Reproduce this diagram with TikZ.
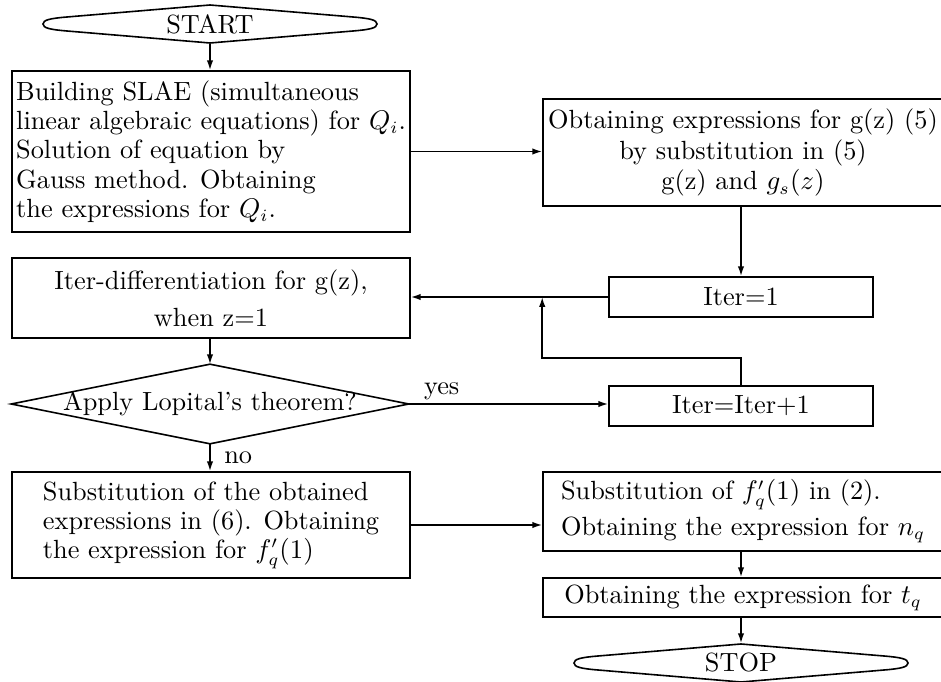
\documentclass[tikz,border=0pt]{standalone}
\usetikzlibrary{arrows.meta,calc}
\newlength\pxu \setlength\pxu{0.4065pt}
\newcommand\termpath[1]{\draw[shift={(#1.center)}] (0,-19) -- (-143,-7) .. controls (-160,-5.6) and (-167,-4) .. (-167,0) .. controls (-167,4) and (-160,5.6) .. (-143,7) -- (0,19) -- (143,7) .. controls (160,5.6) and (167,4) .. (167,0) .. controls (167,-4) and (160,-5.6) .. (143,-7) -- cycle;}
\begin{document}
\begin{tikzpicture}[x=\pxu,y=-\pxu, line width=0.65pt,
  every node/.style={font=\fontsize{10.7}{11.9}\selectfont},
  box/.style={draw, rectangle, inner sep=0pt},
  term/.style={inner sep=0pt, minimum width=334\pxu, minimum height=38\pxu},
  arr/.style={-{Latex[length=4pt,width=2.6pt]}}]
\useasboundingbox (0,0) rectangle (941,682);
\clip (0,0) rectangle (941,682);
% terminals
\node[term] (start) at (210,24) {START};
\termpath{start}
\node[term] (stop) at (741,663) {STOP};
\termpath{stop}
% boxes
\node[box, minimum width=398\pxu, minimum height=161\pxu, align=left] (b1) at (211,151.5)
  {Building SLAE (simultaneous\\ linear algebraic equations) for $Q_i$.\\ Solution of equation by\\ Gauss method. Obtaining\\ the expressions for $Q_i$.};
\node[box, minimum width=400\pxu, minimum height=107\pxu, align=center] (b2) at (743,152.5)
  {Obtaining expressions for g(z) (5)\\[0.7pt] by substitution in (5)\\[0.7pt] g(z) and $g_s(z)$};
\node[box, minimum width=264\pxu, minimum height=40\pxu] (iter1) at (741,297) {Iter=1};
\node[box, minimum width=398\pxu, minimum height=80\pxu, align=center] (b3) at (211,298)
  {Iter-differentiation for g(z),\\[3.1pt] when z=1};
\node[inner sep=0pt, minimum width=396\pxu, minimum height=78\pxu] (dia) at (210,404) {Apply Lopital's theorem?};
\draw (dia.north) -- (dia.east) -- (dia.south) -- (dia.west) -- cycle;
\node[box, minimum width=264\pxu, minimum height=40\pxu] (iter2) at (741,406) {Iter=Iter+1};
\node[box, minimum width=398\pxu, minimum height=106\pxu, align=left] (b4) at (211,525)
  {Substitution of the obtained\\ expressions in (6). Obtaining\\ the expression for $f'_q(1)$};
\node[box, minimum width=400\pxu, minimum height=79\pxu, align=left] (b5) at (743,511.5)
  {Substitution of $f'_q(1)$ in (2).\\[2.7pt] Obtaining the expression for $n_q$};
\node[box, minimum width=400\pxu, minimum height=39\pxu] (b6) at (743,597.5)
  {Obtaining the expression for $t_q$};
% connectors
\coordinate (cc) at (741,0);
\draw[arr] (start.south) -- (start.south |- b1.north);
\draw[arr] (b1.east) -- (b1.east -| b2.west);
\draw[arr] (cc |- b2.south) -- (cc |- iter1.north);
\draw[arr] (iter1.west) -- (iter1.west -| b3.east);
\coordinate (junc) at (b2.west |- iter1.west);
\draw[arr] (iter2.north) -- ++(0,-27) -| (junc);
\draw[arr] (dia.north |- b3.south) -- (dia.north);
\draw[arr] (dia.east) -- (dia.east -| iter2.west) node[pos=0.165, above, inner sep=1.5pt] {yes};
\draw[arr] (dia.south) -- (dia.south |- b4.north) node[midway, right=5.5pt, inner sep=0pt] {no};
\draw[arr] (b4.east) -- (b4.east -| b5.west);
\draw[arr] (cc |- b5.south) -- (cc |- b6.north);
\draw[arr] (cc |- b6.south) -- (stop.north);
\end{tikzpicture}
\end{document}
